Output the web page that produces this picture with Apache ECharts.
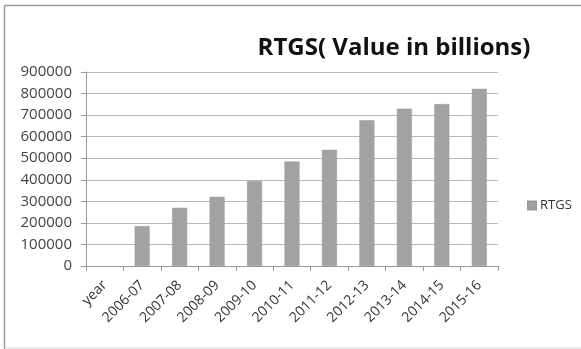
<!DOCTYPE html>
<html>
<head>
<meta charset="utf-8">
<style>
  html, body { margin: 0; padding: 0; background: #fff; }
  #chart { width: 581px; height: 349px; }
</style>
<script src="https://cdn.jsdelivr.net/npm/echarts@6/dist/echarts.min.js"></script>
</head>
<body>
<div id="chart"></div>
<script>
// RTGS transaction value per financial year (in billions)
const categories = ['year', '2006-07', '2007-08', '2008-09', '2009-10', '2010-11',
                    '2011-12', '2012-13', '2013-14', '2014-15', '2015-16'];
const rtgsValues = [null, 185000, 270000, 321000, 394000, 485000,
                    539000, 676000, 730000, 751000, 822000];
const yTicks = [0, 100000, 200000, 300000, 400000, 500000, 600000, 700000, 800000, 900000];

const chart = echarts.init(document.getElementById('chart'));
const fontFamily = '"Open Sans", sans-serif';

chart.setOption({
  animation: false,
  backgroundColor: '#ffffff',
  graphic: [
    // outer frame of the chart
    { type: 'line', shape: { x1: 4.5, y1: 5.5, x2: 581, y2: 5.5 }, style: { stroke: '#9a9a9a', lineWidth: 1.5 } },
    { type: 'line', shape: { x1: 4.5, y1: 5.5, x2: 4.5, y2: 349 }, style: { stroke: '#9a9a9a', lineWidth: 1.5 } },
    { type: 'line', shape: { x1: 4.5, y1: 348, x2: 581, y2: 348 }, style: { stroke: '#d8d8d8', lineWidth: 1 } }
  ],
  title: {
    text: 'RTGS( Value in billions)',
    left: 389,
    top: 31,
    textAlign: 'center',
    textStyle: { fontFamily: fontFamily, fontWeight: 'bold', fontSize: 24, color: '#111' }
  },
  legend: {
    data: ['RTGS'],
    left: 522,
    top: 194,
    itemWidth: 8,
    itemHeight: 8,
    itemGap: 4,
    icon: 'rect',
    textStyle: { fontFamily: fontFamily, fontSize: 13, color: '#333', padding: [0, 0, 0, -1] }
  },
  grid: { left: 86, right: 83, top: 72, bottom: 83 },
  xAxis: {
    type: 'category',
    data: categories,
    axisLine: { lineStyle: { color: '#999', width: 1 } },
    axisTick: { show: true, alignWithLabel: false, length: 5, lineStyle: { color: '#999' } },
    axisLabel: {
      rotate: 45,
      interval: 0,
      margin: 17,
      fontFamily: fontFamily,
      fontSize: 14,
      color: '#333'
    }
  },
  yAxis: {
    type: 'value',
    min: 0,
    max: 900000,
    interval: 100000,
    axisLine: { show: true, lineStyle: { color: '#999', width: 1 } },
    axisTick: { show: true, length: 5, lineStyle: { color: '#999' } },
    splitLine: { lineStyle: { color: '#b8b8b8', width: 1 } },
    axisLabel: {
      margin: 14,
      fontFamily: fontFamily,
      fontSize: 15,
      color: '#444',
      formatter: v => yTicks.includes(v) ? String(v) : ''
    }
  },
  series: [{
    name: 'RTGS',
    type: 'bar',
    data: rtgsValues,
    barWidth: 15,
    itemStyle: { color: '#a2a2a2', borderColor: '#9a9a9a', borderWidth: 0.5 }
  }]
});
</script>
</body>
</html>
